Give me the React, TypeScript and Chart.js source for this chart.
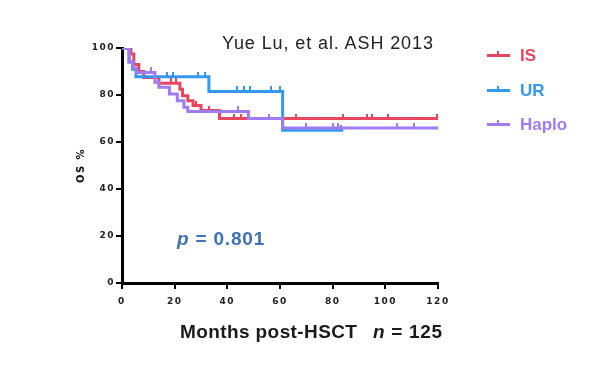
import React, { useEffect, useRef } from "react";
import { Chart, registerables } from "chart.js";

Chart.register(...registerables);

// Kaplan-Meier step data (months, OS %)
const isTimes = [0, 3.4, 4.5, 6.4, 8.3, 14, 22, 23, 25, 27, 30, 37, 120];
const isSurv = [100, 97.4, 93, 90, 87.5, 85, 82.5, 79.7, 77.6, 75.5, 73.4, 70, 70];
const isCensor = [18.5, 20.5, 28, 33, 42.5, 45, 48, 66, 84, 93, 95, 101, 119.5];

const urTimes = [0, 2.6, 4, 5.3, 33, 61, 84];
const urSurv = [100, 94, 91, 87.8, 81.5, 65, 65];
const urCensor = [17, 19.5, 29, 31.5, 43.5, 46.5, 48.5, 56.5, 60, 83];

const haploTimes = [0, 2.8, 4.2, 5.5, 12.5, 14, 18, 21, 23.5, 25, 48, 61, 120];
const haploSurv = [100, 94, 91.5, 89.6, 85.4, 83.3, 80.4, 77.6, 74.8, 73, 70, 66, 66];
const haploCensor = [11, 44, 56, 70, 80, 82, 104.5, 111];

const seriesNames = ["IS", "UR", "Haplo"];
const seriesColors = ["#e8455e", "#3399f0", "#a07cf2"];

const xTicks = [0, 20, 40, 60, 80, 100, 120];
const yTicks = [0, 20, 40, 60, 80, 100];

function survAt(times: number[], surv: number[], t: number) {
  let v = surv[0];
  for (let i = 0; i < times.length; i++) if (times[i] <= t) v = surv[i];
  return v;
}

function tickMark(color: string) {
  const c = document.createElement("canvas");
  c.width = 2;
  c.height = 10;
  const g = c.getContext("2d");
  if (g) {
    g.fillStyle = color;
    g.fillRect(0, 0, 2, 5);
  }
  return c;
}

function stepSet(label: string, times: number[], surv: number[], color: string) {
  return {
    type: "line" as const,
    label,
    data: times.map((t, i) => ({ x: t, y: surv[i] })),
    borderColor: color,
    backgroundColor: color,
    borderWidth: 3,
    stepped: "before" as const,
    pointRadius: 0,
    fill: false,
  };
}

function censorSet(label: string, times: number[], surv: number[], cens: number[], color: string) {
  return {
    type: "scatter" as const,
    label: label + " censored",
    data: cens.map((t) => ({ x: t, y: survAt(times, surv, t) })),
    borderColor: color,
    backgroundColor: color,
    pointStyle: tickMark(color),
    pointRadius: 5,
    borderWidth: 0,
    showLine: false,
  };
}

const tickFont = { family: "'DejaVu Sans', sans-serif", size: 9, weight: "bold" as const };

const spacingPlugin = {
  id: "spacing",
  beforeDraw(chart: any) {
    try {
      chart.ctx.letterSpacing = "1.5px";
    } catch (e) {}
  },
};

export default function App() {
  const ref = useRef<HTMLCanvasElement | null>(null);

  useEffect(() => {
    if (!ref.current) return;
    const chart = new Chart(ref.current, {
      type: "line",
      data: {
        datasets: [
          stepSet("Haplo", haploTimes, haploSurv, seriesColors[2]),
          stepSet("UR", urTimes, urSurv, seriesColors[1]),
          stepSet("IS", isTimes, isSurv, seriesColors[0]),
          censorSet("Haplo", haploTimes, haploSurv, haploCensor, seriesColors[2]),
          censorSet("UR", urTimes, urSurv, urCensor, seriesColors[1]),
          censorSet("IS", isTimes, isSurv, isCensor, seriesColors[0]),
        ] as any,
      },
      plugins: [spacingPlugin],
      options: {
        animation: false,
        responsive: false,
        maintainAspectRatio: false,
        layout: { padding: { left: 71, right: 170, top: 48, bottom: 0 } },
        plugins: { legend: { display: false }, tooltip: { enabled: false } },
        scales: {
          x: {
            type: "linear",
            min: 0,
            max: 120,
            afterBuildTicks: (s: any) => {
              s.ticks = xTicks.map((v) => ({ value: v }));
            },
            ticks: { font: tickFont, color: "#222", padding: 7 },
            grid: { drawOnChartArea: false, drawTicks: true, tickLength: 6, color: "#000", lineWidth: 2 },
            border: { color: "#000", width: 3 },
            afterFit: (s: any) => {
              s.height = 89;
            },
          },
          y: {
            type: "linear",
            min: 0,
            max: 100,
            afterBuildTicks: (s: any) => {
              s.ticks = yTicks.map((v) => ({ value: v }));
            },
            ticks: { font: tickFont, color: "#222", padding: 1 },
            grid: { drawOnChartArea: false, drawTicks: true, tickLength: 6, color: "#000", lineWidth: 2 },
            border: { color: "#000", width: 3 },
            title: {
              display: true,
              text: "OS %",
              color: "#111",
              font: { family: "'DejaVu Sans', sans-serif", size: 10, weight: "bold" },
            },
            afterFit: (s: any) => {
              s.width = 51;
            },
          },
        },
      },
    });
    return () => chart.destroy();
  }, []);

  const abs = (l: number, t: number): React.CSSProperties => ({
    position: "absolute",
    left: l,
    top: t,
    lineHeight: 1,
    whiteSpace: "nowrap",
  });

  const legendY = [55, 90, 124];

  return (
    <div
      style={{
        position: "fixed",
        left: 0,
        top: 0,
        width: 608,
        height: 372,
        background: "#fff",
        fontFamily: "'Liberation Sans', Arial, sans-serif",
      }}
    >
      <canvas ref={ref} width={608} height={372} style={{ position: "absolute", left: 0, top: 0 }} />
      <div style={{ ...abs(222, 34), fontSize: 18, letterSpacing: 0.9, color: "#222" }}>
        Yue Lu, et al. ASH 2013
      </div>
      <div style={{ ...abs(177, 229), fontSize: 19, letterSpacing: 0.8, fontWeight: "bold", color: "#3e72b8" }}>
        <i>p</i> = 0.801
      </div>
      <div style={{ ...abs(180, 322), fontSize: 19, letterSpacing: 0.4, fontWeight: "bold", color: "#1a1a1a" }}>
        Months post-HSCT
      </div>
      <div style={{ ...abs(373, 322), fontSize: 19, letterSpacing: 0.7, fontWeight: "bold", color: "#1a1a1a" }}>
        <i>n</i> = 125
      </div>
      {seriesNames.map((name, i) => (
        <div key={name} style={{ ...abs(487, legendY[i] - 9), height: 18 }}>
          <div
            style={{
              position: "absolute",
              left: 0,
              top: 8,
              width: 23,
              height: 3,
              background: seriesColors[i],
            }}
          />
          <div
            style={{
              position: "absolute",
              left: 10,
              top: 5,
              width: 2,
              height: 4,
              background: seriesColors[i],
            }}
          />
          <div
            style={{
              position: "absolute",
              left: 33,
              top: 1,
              fontSize: 17,
              fontWeight: "bold",
              color: seriesColors[i],
            }}
          >
            {name}
          </div>
        </div>
      ))}
    </div>
  );
}
